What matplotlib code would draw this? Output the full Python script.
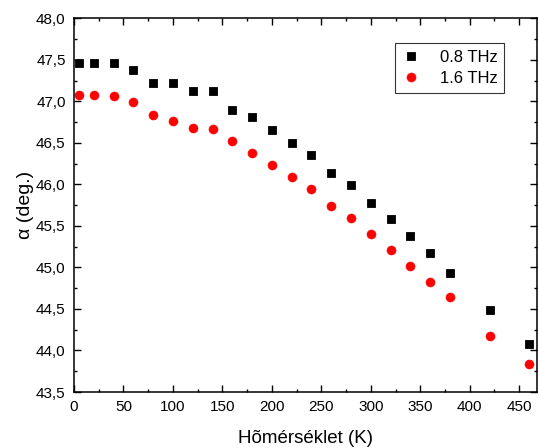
import matplotlib
matplotlib.use("Agg")
import matplotlib.pyplot as plt
from matplotlib.ticker import MultipleLocator, FuncFormatter

plt.rcParams['font.family'] = ['Liberation Sans', 'DejaVu Sans']

temps = [5, 20, 40, 60, 80, 100, 120, 140, 160, 180, 200, 220, 240,
         260, 280, 300, 320, 340, 360, 380, 420, 460]
alpha_08 = [47.46, 47.46, 47.46, 47.38, 47.22, 47.22, 47.13, 47.13, 46.90, 46.81,
            46.66, 46.50, 46.36, 46.14, 45.99, 45.78, 45.58, 45.38, 45.18, 44.93,
            44.49, 44.08]
alpha_16 = [47.08, 47.08, 47.07, 46.99, 46.84, 46.76, 46.68, 46.67, 46.52, 46.38,
            46.23, 46.09, 45.95, 45.74, 45.60, 45.40, 45.21, 45.02, 44.83, 44.65,
            44.18, 43.84]

fig = plt.figure(figsize=(5.39, 4.48), dpi=100)
ax = fig.add_axes([0.1373, 0.125, 0.859, 0.834])

ax.plot(temps, alpha_08, "s", color="black", markersize=5.8, mew=0.6, label="0.8 THz")
ax.plot(temps, alpha_16, "o", color="red", markersize=6.5, mew=0.4, label="1.6 THz")

ax.set_xlim(0, 468)
ax.set_ylim(43.5, 48.0)
ax.xaxis.set_major_locator(MultipleLocator(50))
ax.xaxis.set_minor_locator(MultipleLocator(25))
ax.yaxis.set_major_locator(MultipleLocator(0.5))
ax.yaxis.set_minor_locator(MultipleLocator(0.25))
ax.yaxis.set_major_formatter(FuncFormatter(lambda v, p: f"{v:.1f}".replace(".", ",")))

ax.tick_params(which="both", direction="in", top=True, right=True, labelsize=11, width=1.0, pad=6)
ax.tick_params(which="major", length=5)
ax.tick_params(which="minor", length=2.5)
for s in ax.spines.values():
    s.set_linewidth(1.1)

ax.set_xlabel("Hõmérséklet (K)", fontsize=13.5, labelpad=11)
ax.set_ylabel("α (deg.)", fontsize=14, labelpad=1.5)

leg = ax.legend(loc="upper right", bbox_to_anchor=(0.929, 0.934), fontsize=12,
                frameon=True, fancybox=False, edgecolor="black", borderaxespad=0,
                handletextpad=1.1, borderpad=0.4, labelspacing=0.38, handlelength=1.2)
leg.get_frame().set_linewidth(0.8)

fig.savefig("out.png", dpi=100)
